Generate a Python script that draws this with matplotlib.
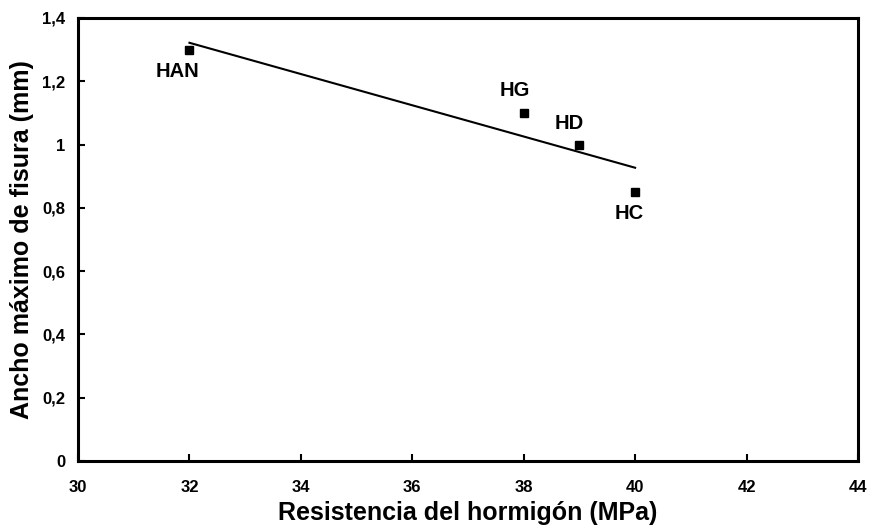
import matplotlib
matplotlib.use("Agg")
import matplotlib.pyplot as plt
import numpy as np

plt.rcParams['font.family'] = ['Liberation Sans', 'DejaVu Sans']
plt.rcParams['font.weight'] = 'bold'

names = ["HAN", "HG", "HD", "HC"]
resistencia = [32, 38, 39, 40]
ancho = [1.30, 1.10, 1.00, 0.85]
label_offsets = [(-8.6, -16), (-6.5, 16.5), (-7, 15.5), (-4.3, -15.5)]

xticks = [30, 32, 34, 36, 38, 40, 42, 44]
yticks = [0, 0.2, 0.4, 0.6, 0.8, 1.0, 1.2, 1.4]
yticklabels = ["0", "0,2", "0,4", "0,6", "0,8", "1", "1,2", "1,4"]

fig = plt.figure(figsize=(8.71, 5.29), dpi=100)
ax = fig.add_axes([0.0896, 0.1285, 0.8954, 0.8375])

x = np.array(resistencia, dtype=float)
y = np.array(ancho)
coef = np.polyfit(x, y, 1)
xf = np.array([x.min(), x.max()])
ax.plot(xf, np.polyval(coef, xf), color='black', lw=1.5, zorder=2)

ax.plot(x, y, 's', color='black', markersize=6, zorder=3)

for n, xi, yi, off in zip(names, x, y, label_offsets):
    ax.annotate(n, (xi, yi), xytext=off, textcoords='offset points',
                ha='center', va='center', fontsize=14.5, fontweight='bold')

ax.set_xlim(30, 44)
ax.set_ylim(0, 1.4)
ax.set_xticks(xticks)
ax.set_xticklabels([str(t) for t in xticks])
ax.set_yticks(yticks)
ax.set_yticklabels(yticklabels)
ax.tick_params(direction='in', length=5, width=1.5, labelsize=12)
ax.tick_params(axis='x', pad=14)
ax.tick_params(axis='y', pad=9)
for lab in ax.get_xticklabels() + ax.get_yticklabels():
    lab.set_fontweight('bold')
for s in ax.spines.values():
    s.set_linewidth(2.2)

ax.set_xlabel("Resistencia del hormigón (MPa)", fontsize=18, fontweight='bold', labelpad=4)
ax.set_ylabel("Ancho máximo de fisura (mm)", fontsize=18, fontweight='bold', labelpad=6)

fig.savefig("out.png", dpi=100)
